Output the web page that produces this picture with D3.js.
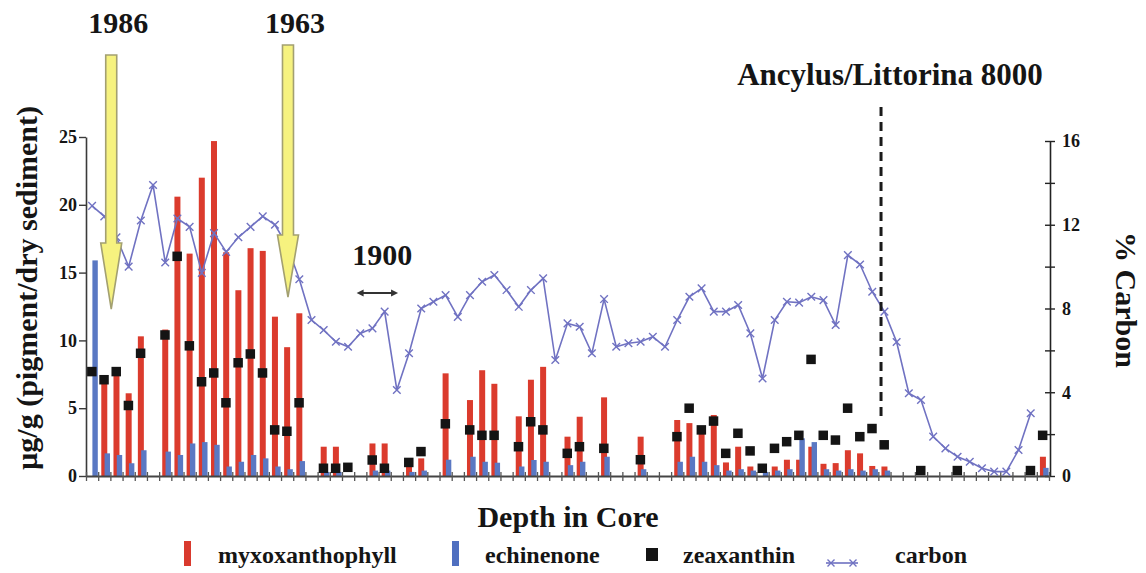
<!DOCTYPE html>
<html>
<head>
<meta charset="utf-8">
<script src="https://cdn.jsdelivr.net/npm/d3@7"></script>
<style>
  body { margin: 0; background: #fff; }
  svg { display: block; }
  text { font-family: "Liberation Serif", "Times New Roman", serif; font-weight: bold; fill: #151515; }
</style>
</head>
<body>
<svg id="chart" width="1146" height="573"></svg>
<script>
// Core samples, top of the core (left) to the bottom (right)
const samples = [
  1, 2, 3, 4, 5, 6, 7, 8, 9, 10, 11, 12, 13, 14, 15, 16, 17, 18, 19, 20,
  21, 22, 23, 24, 25, 26, 27, 28, 29, 30, 31, 32, 33, 34, 35, 36, 37, 38, 39, 40,
  41, 42, 43, 44, 45, 46, 47, 48, 49, 50, 51, 52, 53, 54, 55, 56, 57, 58, 59, 60,
  61, 62, 63, 64, 65, 66, 67, 68, 69, 70, 71, 72, 73, 74, 75, 76, 77, 78, 79
];

// Pigment concentrations, µg/g dry sediment
const myxoxanthophyll = [
  0, 6.95, 7.9, 6.1, 10.3, 0, 10.8, 20.6, 16.4, 22.0,
  24.7, 16.5, 13.7, 16.8, 16.6, 11.75, 9.5, 12.0, 0, 2.16,
  2.16, 0, 0, 2.4, 2.4, 0, 1.0, 1.3, 0, 7.57,
  0, 5.6, 7.8, 6.8, 0, 4.4, 7.1, 8.05, 0, 2.9,
  4.37, 0, 5.8, 0, 0, 2.9, 0, 0, 4.13, 3.9,
  3.64, 4.5, 1.0, 2.16, 0.7, 0, 0.7, 1.2, 1.2, 2.16,
  0.9, 0.95, 1.9, 1.67, 0.74, 0.7, 0, 0, 0, 0,
  0, 0, 0, 0, 0, 0, 0, 0, 1.42
];

const echinenone = [
  15.9, 1.67, 1.55, 0.94, 1.9, 0, 1.8, 1.55, 2.4, 2.5,
  2.3, 0.7, 1.05, 1.55, 1.3, 0.7, 0.5, 1.1, 0, 0.3,
  0.3, 0, 0, 0.4, 0.4, 0, 0.3, 0.4, 0, 1.2,
  0, 1.42, 1.05, 0.98, 0, 0.7, 1.18, 1.05, 0, 0.8,
  1.05, 0, 1.42, 0, 0, 0.5, 0, 0, 1.05, 1.42,
  1.05, 0.8, 0.4, 0.5, 0.4, 0.3, 0.4, 0.5, 2.78, 2.5,
  0.5, 0.4, 0.5, 0.4, 0.5, 0.4, 0, 0, 0, 0,
  0, 0, 0, 0, 0, 0, 0, 0, 0.6
];

const zeaxanthin = [
  7.7, 7.1, 7.7, 5.2, 9.05, null, 10.4, 16.2, 9.6, 6.95,
  7.6, 5.4, 8.35, 9.0, 7.6, 3.4, 3.3, 5.4, null, 0.57,
  0.57, 0.64, null, 1.18, 0.57, null, 1.0, 1.8, null, 3.85,
  null, 3.4, 3.0, 3.0, null, 2.16, 4.0, 3.4, null, 1.67,
  2.16, null, 2.04, null, null, 1.2, null, null, 2.9, 5.0,
  3.4, 4.05, 1.67, 3.15, 1.85, 0.57, 2.04, 2.53, 3.0, 8.6,
  3.0, 2.65, 5.0, 2.9, 3.5, 2.3, null, null, 0.4, null,
  null, 0.4, null, null, null, null, null, 0.4, 3.0
];

// Organic carbon, % of dry sediment
const carbon = [
  12.9, 12.4, 11.4, 10.0, 12.2, 13.9, 10.2, 12.3, 11.9, 9.7,
  11.6, 10.7, 11.4, 11.9, 12.4, 12.0, 11.0, 9.4, 7.45, 6.97,
  6.41, 6.17, 6.81, 7.05, 7.85, 4.11, 5.86, 8.0, 8.32, 8.64,
  7.6, 8.64, 9.28, 9.6, 8.88, 8.08, 8.88, 9.44, 5.54, 7.29,
  7.13, 5.86, 8.45, 6.17, 6.34, 6.41, 6.65, 6.17, 7.45, 8.56,
  8.96, 7.85, 7.85, 8.17, 6.81, 4.66, 7.45, 8.32, 8.28, 8.56,
  8.4, 7.21, 10.55, 10.1, 8.8, 7.85, 6.4, 3.95, 3.63, 1.88,
  1.32, 0.92, 0.68, 0.37, 0.21, 0.21, 1.24, 3.0, null
];

const pigmentTicks = [0, 5, 10, 15, 20, 25];
const carbonTicks = [0, 2, 4, 6, 8, 10, 12, 14, 16];
const carbonLabelTicks = [0, 4, 8, 12, 16];

// Dated horizons along the core (position in sample units from the top)
const dateArrows = [
  { label: "1986", at: 2.07 },
  { label: "1963", at: 16.57 }
];
const range1900 = { label: "1900", from: 22.2, to: 25.6 };
const boundary = { label: "Ancylus/Littorina 8000", at: 65.22 };

const legendItems = [
  { label: "myxoxanthophyll", kind: "bar", color: "#d93a2e" },
  { label: "echinenone", kind: "bar", color: "#4f6fc0" },
  { label: "zeaxanthin", kind: "square", color: "#141414" },
  { label: "carbon", kind: "line", color: "#6e70c0" }
];

const RED = "#db3b2d", BLUE = "#5a78c3", LINE = "#7072c2";
const SERIF = '"Liberation Serif", "Times New Roman", serif';

const svg = d3.select("#chart");
svg.append("rect").attr("width", 1146).attr("height", 573).attr("fill", "#fff");

const plot = { left: 86, right: 1049, bottom: 476 };

const x = d3.scaleBand().domain(samples).range([plot.left, plot.right]).padding(0);
const xPos = d3.scaleLinear().domain([0, samples.length]).range([plot.left, plot.right]);
const yL = d3.scaleLinear().domain([0, 25]).range([plot.bottom, 137]);
const yR = d3.scaleLinear().domain([0, 16]).range([plot.bottom, 141]);
const bw = x.bandwidth();
const cx = s => x(s) + bw / 2;

const rows = samples.map((s, i) => ({
  s, myxo: myxoxanthophyll[i], echi: echinenone[i], zea: zeaxanthin[i], c: carbon[i]
}));

// Bars: myxoxanthophyll, with echinenone overlapping slightly to the right
svg.append("g").selectAll("rect").data(rows.filter(d => d.myxo > 0)).join("rect")
  .attr("x", d => cx(d.s) - 3).attr("width", 6)
  .attr("y", d => yL(d.myxo)).attr("height", d => yL(0) - yL(d.myxo))
  .attr("fill", RED);

svg.append("g").selectAll("rect").data(rows.filter(d => d.echi > 0)).join("rect")
  .attr("x", d => cx(d.s) + 0.3).attr("width", 5.4)
  .attr("y", d => yL(d.echi)).attr("height", d => yL(0) - yL(d.echi))
  .attr("fill", BLUE);

// Left axis
const gL = svg.append("g").attr("transform", `translate(${plot.left},0)`)
  .call(d3.axisLeft(yL).tickValues(pigmentTicks).tickSize(7).tickSizeOuter(0).tickPadding(2));
gL.attr("font-family", SERIF);
gL.select(".domain").attr("stroke", "#3a3a3a").attr("stroke-width", 1.6);
gL.selectAll(".tick line").attr("stroke", "#3a3a3a").attr("stroke-width", 1.4);
gL.selectAll(".tick text").style("font-size", "18px").style("font-family", SERIF).attr("fill", "#333");

// Right axis
const gR = svg.append("g").attr("transform", `translate(${plot.right + 1},0)`)
  .call(d3.axisRight(yR).tickValues(carbonTicks).tickSize(5).tickSizeOuter(0).tickPadding(7)
    .tickFormat(d => carbonLabelTicks.includes(d) ? d : ""));
gR.attr("font-family", SERIF);
gR.select(".domain").attr("stroke", "#222").attr("stroke-width", 1.6);
gR.selectAll(".tick line").attr("x1", -5).attr("x2", 5).attr("stroke", "#222").attr("stroke-width", 1.4);
gR.selectAll(".tick text").style("font-size", "18px").style("font-family", SERIF).attr("fill", "#333");

// Bottom axis: a tick at every sample boundary
const gB = svg.append("g").attr("transform", `translate(0,${plot.bottom})`)
  .call(d3.axisBottom(xPos).tickValues(d3.range(0, samples.length + 1)).tickSize(5).tickSizeOuter(0).tickFormat(""));
gB.select(".domain").attr("stroke", "#444").attr("stroke-width", 2);
gB.selectAll(".tick line").attr("y1", -4).attr("y2", 5).attr("stroke", "#555").attr("stroke-width", 1.3);

// Zeaxanthin markers
svg.append("g").selectAll("rect").data(rows.filter(d => d.zea != null)).join("rect")
  .attr("x", d => cx(d.s) - 5).attr("y", d => yL(d.zea) - 4.75)
  .attr("width", 9.5).attr("height", 9.5).attr("fill", "#141414");

// Carbon line with x markers
const cRows = rows.filter(d => d.c != null);
svg.append("path").datum(cRows)
  .attr("fill", "none").attr("stroke", LINE).attr("stroke-width", 1.6)
  .attr("d", d3.line().x(d => cx(d.s)).y(d => yR(d.c)));
const cross = (g, r) => g.append("path")
  .attr("d", `M${-r},${-r}L${r},${r}M${-r},${r}L${r},${-r}`)
  .attr("stroke", LINE).attr("stroke-width", 1.4).attr("fill", "none");
svg.append("g").selectAll("g").data(cRows).join("g")
  .attr("transform", d => `translate(${cx(d.s)},${yR(d.c)})`)
  .each(function () { cross(d3.select(this), 3.8); });

// Ancylus/Littorina boundary
const bx = xPos(boundary.at);
svg.append("line").attr("x1", bx).attr("x2", bx).attr("y1", 107).attr("y2", 418)
  .attr("stroke", "#1a1a1a").attr("stroke-width", 3).attr("stroke-dasharray", "9,6");
svg.append("text").attr("x", 890).attr("y", 85).attr("text-anchor", "middle")
  .style("font-size", "31px").text(boundary.label);

// Dating arrows
const arrowShape = [
  { top: 55, headTop: 243, tip: 309 },
  { top: 45, headTop: 235, tip: 297 }
];
dateArrows.forEach((a, i) => {
  const ax = xPos(a.at), sh = arrowShape[i];
  const pts = [
    [ax - 5.5, sh.top], [ax + 5.5, sh.top], [ax + 5.5, sh.headTop], [ax + 10.5, sh.headTop],
    [ax, sh.tip], [ax - 10.5, sh.headTop], [ax - 5.5, sh.headTop]
  ];
  svg.append("path").attr("d", d3.line()(pts) + "Z")
    .attr("fill", "#f6f27f").attr("stroke", "#a3a071").attr("stroke-width", 1.6);
  svg.append("text").attr("x", ax + 7).attr("y", 33).attr("text-anchor", "middle")
    .style("font-size", "30px").text(a.label);
});

// 1900 range arrow
const r0 = xPos(range1900.from), r1 = xPos(range1900.to);
svg.append("text").attr("x", (r0 + r1) / 2 + 5).attr("y", 265).attr("text-anchor", "middle")
  .style("font-size", "30px").text(range1900.label);
svg.append("line").attr("x1", r0 + 4).attr("x2", r1 - 4).attr("y1", 293).attr("y2", 293)
  .attr("stroke", "#333").attr("stroke-width", 2.2);
svg.append("path").attr("d", `M${r0},293L${r0 + 7},289.5L${r0 + 7},296.5Z M${r1},293L${r1 - 7},289.5L${r1 - 7},296.5Z`)
  .attr("fill", "#333");

// Axis titles
svg.append("text").attr("transform", "translate(37,288) rotate(-90)").attr("text-anchor", "middle")
  .style("font-size", "30px").text("µg/g (pigment/dry sediment)");
svg.append("text").attr("transform", "translate(1116,300) rotate(90)").attr("text-anchor", "middle")
  .style("font-size", "30px").text("% Carbon");
svg.append("text").attr("x", 568).attr("y", 527).attr("text-anchor", "middle")
  .style("font-size", "30px").text("Depth in Core");

// Legend
const legendX = [184, 452, 646, 826];
const legendTextX = [218, 485, 683, 895];
legendItems.forEach((it, i) => {
  const g = svg.append("g");
  const lx = legendX[i];
  if (it.kind === "bar") {
    g.append("rect").attr("x", lx).attr("y", 541).attr("width", 7).attr("height", 25).attr("fill", it.color);
  } else if (it.kind === "square") {
    g.append("rect").attr("x", lx).attr("y", 548).attr("width", 12).attr("height", 13).attr("fill", it.color);
  } else {
    g.append("line").attr("x1", lx).attr("x2", lx + 32).attr("y1", 563).attr("y2", 563)
      .attr("stroke", it.color).attr("stroke-width", 1.6);
    [lx + 5, lx + 27].forEach(mx => {
      const m = g.append("g").attr("transform", `translate(${mx},563)`);
      cross(m, 3.5);
    });
  }
  svg.append("text").attr("x", legendTextX[i]).attr("y", 563)
    .style("font-size", "24px").text(it.label);
});
</script>
</body>
</html>
